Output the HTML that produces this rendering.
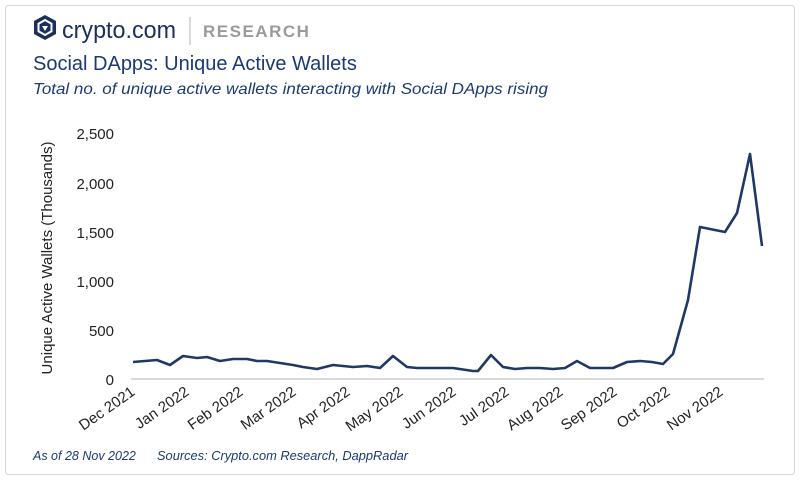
<!DOCTYPE html>
<html><head><meta charset="utf-8"><style>
body{margin:0;background:#fff;width:800px;height:481px;overflow:hidden;font-family:"Liberation Sans",sans-serif}
</style></head><body>
<svg width="800" height="481" xmlns="http://www.w3.org/2000/svg" font-family="Liberation Sans, sans-serif">
<rect x="5.5" y="5.5" width="789" height="469" rx="3" fill="#fff" stroke="#d8d8d8"/>
<g transform="translate(34,15)">
<path d="M11 0 L22 6 L22 19 L11 25 L0 19 L0 6 Z" fill="#1b2f5e"/>
<path d="M11 5 L17.5 8.7 L17.5 16.3 L11 20 L4.5 16.3 L4.5 8.7 Z" fill="none" stroke="#fff" stroke-width="2"/>
<path d="M8 11 L14 11 L11 16 Z" fill="#fff"/>
</g>
<text x="62" y="38" font-size="24" fill="#1b2f5e" textLength="114" lengthAdjust="spacingAndGlyphs">crypto.com</text>
<line x1="190" y1="17" x2="190" y2="45" stroke="#ccc" stroke-width="1.5"/>
<text x="203" y="37" font-size="17" font-weight="bold" fill="#9a9a9a" letter-spacing="1.5">RESEARCH</text>
<text x="33" y="70" font-size="20" fill="#1b3a73">Social DApps: Unique Active Wallets</text>
<text x="33" y="94" font-size="16" font-style="italic" fill="#1b3a73" textLength="515" lengthAdjust="spacingAndGlyphs">Total no. of unique active wallets interacting with Social DApps rising</text>
<g font-size="15" fill="#222" text-anchor="end">
<text x="114" y="139">2,500</text>
<text x="114" y="189">2,000</text>
<text x="114" y="238">1,500</text>
<text x="114" y="287">1,000</text>
<text x="114" y="336">500</text>
<text x="114" y="385">0</text>
</g>
<text transform="translate(52,258) rotate(-90)" font-size="15" fill="#222" text-anchor="middle">Unique Active Wallets (Thousands)</text>
<line x1="131" y1="379" x2="764" y2="379" stroke="#d9d9d9" stroke-width="2"/>
<polyline fill="none" stroke="#1f3864" stroke-width="2.6" stroke-linejoin="round" points="133,362 157,360 170,365 183,356 197,358 207,357 220,361 233,359 247,359 257,361 267,361 280,363 293,365 303,367 317,369 333,365 353,367 367,366 380,368 393,356 407,367 417,368 453,368 473,371 478,371 491,355 503,367 515,369 527,368 540,368 553,369 565,368 577,361 590,368 613,368 627,362 640,361 652,362 663,364 673,354 688,300 700,227 725,232 737,213 750,154 762,246"/>
<g font-size="15" fill="#222" text-anchor="end">
<text transform="translate(136,394) rotate(-35)">Dec 2021</text>
<text transform="translate(190,394) rotate(-35)">Jan 2022</text>
<text transform="translate(244,394) rotate(-35)">Feb 2022</text>
<text transform="translate(297,394) rotate(-35)">Mar 2022</text>
<text transform="translate(351,394) rotate(-35)">Apr 2022</text>
<text transform="translate(404,394) rotate(-35)">May 2022</text>
<text transform="translate(457,394) rotate(-35)">Jun 2022</text>
<text transform="translate(510,394) rotate(-35)">Jul 2022</text>
<text transform="translate(564,394) rotate(-35)">Aug 2022</text>
<text transform="translate(618,394) rotate(-35)">Sep 2022</text>
<text transform="translate(671,394) rotate(-35)">Oct 2022</text>
<text transform="translate(724,394) rotate(-35)">Nov 2022</text>
</g>
<text x="33" y="460" font-size="12.5" font-style="italic" fill="#1b3a73">As of 28 Nov 2022</text>
<text x="157" y="460" font-size="12.5" font-style="italic" fill="#1b3a73" textLength="251" lengthAdjust="spacingAndGlyphs">Sources: Crypto.com Research, DappRadar</text>
</svg>
</body></html>
